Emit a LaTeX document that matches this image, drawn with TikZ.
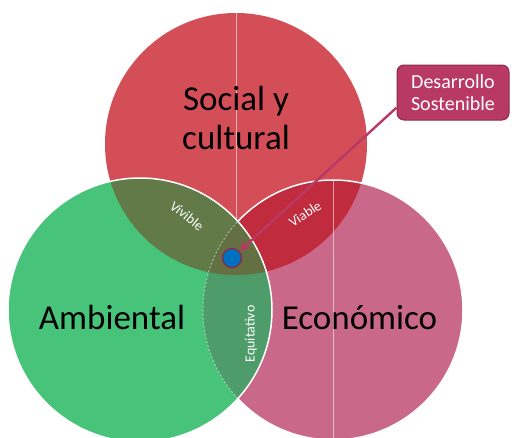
\documentclass[tikz,border=0pt]{standalone}
\usepackage{fontspec}
\setmainfont{Carlito}
\usetikzlibrary{arrows.meta,calc}
\definecolor{cred}{RGB}{212,78,88}
\definecolor{cpink}{RGB}{202,104,138}
\definecolor{cgreen}{RGB}{72,196,122}
\definecolor{credpink}{RGB}{192,44,62}
\definecolor{credgreen}{RGB}{98,122,72}
\definecolor{cgreenpink}{RGB}{78,156,106}
\definecolor{ctriple}{RGB}{100,112,66}
\definecolor{cmag}{RGB}{184,58,100}
\definecolor{cmagdark}{RGB}{140,40,76}
\definecolor{cblue}{RGB}{0,112,192}
\tikzset{
  bigtext/.style={font=\fontsize{35}{39}\selectfont, text=black, inner sep=0pt, align=center},
  smalltext/.style={font=\fontsize{14}{16}\selectfont, text=white, inner sep=0pt},
  dotnode/.style={circle, fill=cblue, draw=cmagdark, line width=1.3pt, minimum size=19pt, inner sep=0pt},
  callout/.style={rectangle, rounded corners=7pt, fill=cmag, draw=cmagdark, line width=1pt, text=white,
    minimum width=112pt, minimum height=55pt, align=center, inner sep=0pt, font=\fontsize{20}{22}\selectfont},
  conn/.style={draw=cmag, line width=2.4pt, -{Stealth[length=10pt,width=10pt]}},
  rim/.style={draw=white, line width=1.5pt},
  midline/.style={draw=white, opacity=0.55, line width=1pt}
}
\begin{document}
\begin{tikzpicture}[x=1pt,y=-1pt]
\useasboundingbox (0,0) rectangle (516,437);
\def\redc{(236,144) circle[radius=131pt]}
\def\grnc{(140,310) circle[radius=132pt]}
\def\pnkc{(333,310) circle[radius=130pt]}
% red circle
\fill[cred] \redc;
\begin{scope}\clip \redc; \draw[midline] (236,10) -- (236,280); \end{scope}
% pink circle
\fill[cpink] \pnkc;
\begin{scope}\clip \redc; \fill[credpink] \pnkc; \end{scope}
\begin{scope}\clip \pnkc; \draw[midline] (333,175) -- (333,445); \end{scope}
\draw[rim] \pnkc;
% green circle
\fill[cgreen] \grnc;
\begin{scope}
  \clip \grnc;
  \fill[credgreen] \redc;
  \fill[cgreenpink] \pnkc;
  \clip \redc;
  \fill[ctriple] \pnkc;
\end{scope}
\begin{scope}\clip \grnc; \draw[white, opacity=0.45, line width=1pt, dash pattern=on 2pt off 2pt] \pnkc; \end{scope}
\draw[rim] \grnc;
% texts
\node[bigtext] (social) at (236,118) {Social y\\cultural};
\node[bigtext, anchor=base] (amb) at (112,329) {Ambiental};
\node[bigtext, anchor=base] (eco) at (359.5,329) {Económico};
\node[smalltext, rotate=-38] (viv) at (187,216) {Vivible};
\node[smalltext, rotate=33] (via) at (305,214) {Viable};
\node[smalltext, rotate=90] (equ) at (251,334) {Equitativo};
% marker and callout
\node[dotnode] (ds) at (232,258) {};
\node[callout] (cb) at (453,92.5) {Desarrollo\\Sostenible};
\draw[conn] (cb.195) -- (ds);
\end{tikzpicture}
\end{document}
